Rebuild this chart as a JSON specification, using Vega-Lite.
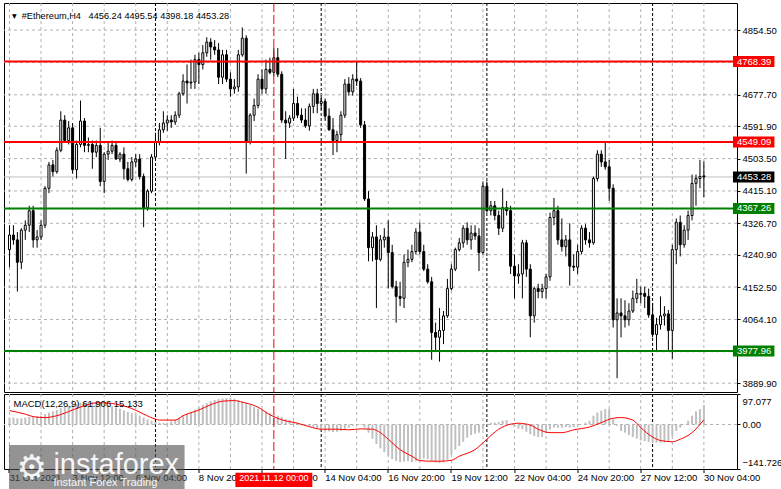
{
"$schema": "https://vega.github.io/schema/vega-lite/v6.json",
"background": "white",
"padding": {"left": 2, "top": 2, "right": 0, "bottom": 0},
"bounds": "flush",
"spacing": 2,
"config": {
  "font": "Liberation Sans",
  "view": {"stroke": "black", "strokeWidth": 1},
  "axis": {"labelFontSize": 9.5, "labelColor": "black", "labelFont": "Liberation Sans", "tickColor": "black", "domain": false, "grid": false, "labelOverlap": false, "labelFlush": false}
},
"datasets": {
  "candles": [
{"t":"2021-10-31T20:00Z","o":4254.8,"h":4321.3,"l":4206.9,"c":4294.7,"m":22},
{"t":"2021-11-01T00:00Z","o":4294.7,"h":4321.3,"l":4268.1,"c":4281.4,"m":22},
{"t":"2021-11-01T04:00Z","o":4281.4,"h":4302.7,"l":4140.3,"c":4220.2,"m":20},
{"t":"2021-11-01T08:00Z","o":4220.2,"h":4313.3,"l":4201.5,"c":4308.0,"m":20},
{"t":"2021-11-01T12:00Z","o":4308.0,"h":4334.6,"l":4281.4,"c":4321.3,"m":22},
{"t":"2021-11-01T16:00Z","o":4321.3,"h":4374.5,"l":4302.7,"c":4361.2,"m":24},
{"t":"2021-11-01T20:00Z","o":4361.2,"h":4374.5,"l":4260.1,"c":4281.4,"m":25},
{"t":"2021-11-02T00:00Z","o":4281.4,"h":4308.0,"l":4260.1,"c":4289.4,"m":26},
{"t":"2021-11-02T04:00Z","o":4289.4,"h":4334.6,"l":4281.4,"c":4321.3,"m":28},
{"t":"2021-11-02T08:00Z","o":4321.3,"h":4427.8,"l":4313.3,"c":4422.4,"m":33},
{"t":"2021-11-02T12:00Z","o":4422.4,"h":4494.3,"l":4409.1,"c":4486.3,"m":38},
{"t":"2021-11-02T16:00Z","o":4486.3,"h":4499.6,"l":4454.4,"c":4467.7,"m":42},
{"t":"2021-11-02T20:00Z","o":4467.7,"h":4534.2,"l":4462.4,"c":4526.2,"m":46},
{"t":"2021-11-03T00:00Z","o":4526.2,"h":4632.7,"l":4520.9,"c":4608.7,"m":52},
{"t":"2021-11-03T04:00Z","o":4608.7,"h":4622.0,"l":4547.5,"c":4552.8,"m":56},
{"t":"2021-11-03T08:00Z","o":4552.8,"h":4606.1,"l":4542.2,"c":4587.4,"m":60},
{"t":"2021-11-03T12:00Z","o":4587.4,"h":4600.7,"l":4462.4,"c":4473.0,"m":62},
{"t":"2021-11-03T16:00Z","o":4473.0,"h":4552.8,"l":4449.1,"c":4542.2,"m":66},
{"t":"2021-11-03T20:00Z","o":4542.2,"h":4662.0,"l":4534.2,"c":4606.1,"m":70},
{"t":"2021-11-04T00:00Z","o":4606.1,"h":4614.1,"l":4520.9,"c":4539.5,"m":71},
{"t":"2021-11-04T04:00Z","o":4539.5,"h":4560.8,"l":4520.9,"c":4542.2,"m":72},
{"t":"2021-11-04T08:00Z","o":4542.2,"h":4552.8,"l":4475.7,"c":4520.9,"m":72},
{"t":"2021-11-04T12:00Z","o":4520.9,"h":4552.8,"l":4507.6,"c":4539.5,"m":71},
{"t":"2021-11-04T16:00Z","o":4539.5,"h":4587.4,"l":4427.8,"c":4441.1,"m":69},
{"t":"2021-11-04T20:00Z","o":4441.1,"h":4520.9,"l":4409.1,"c":4515.6,"m":66},
{"t":"2021-11-05T00:00Z","o":4515.6,"h":4547.5,"l":4499.6,"c":4523.6,"m":62},
{"t":"2021-11-05T04:00Z","o":4523.6,"h":4552.8,"l":4515.6,"c":4539.5,"m":58},
{"t":"2021-11-05T08:00Z","o":4539.5,"h":4547.5,"l":4499.6,"c":4502.3,"m":54},
{"t":"2021-11-05T12:00Z","o":4502.3,"h":4520.9,"l":4494.3,"c":4515.6,"m":50},
{"t":"2021-11-05T16:00Z","o":4515.6,"h":4534.2,"l":4446.4,"c":4475.7,"m":45},
{"t":"2021-11-05T20:00Z","o":4475.7,"h":4494.3,"l":4441.1,"c":4446.4,"m":40},
{"t":"2021-11-06T00:00Z","o":4446.4,"h":4507.6,"l":4441.1,"c":4494.3,"m":36},
{"t":"2021-11-06T04:00Z","o":4494.3,"h":4515.6,"l":4481.0,"c":4502.3,"m":32},
{"t":"2021-11-06T08:00Z","o":4502.3,"h":4515.6,"l":4446.4,"c":4454.4,"m":28},
{"t":"2021-11-06T12:00Z","o":4454.4,"h":4462.4,"l":4316.0,"c":4369.2,"m":22},
{"t":"2021-11-06T16:00Z","o":4369.2,"h":4419.8,"l":4361.2,"c":4414.5,"m":16},
{"t":"2021-11-06T20:00Z","o":4414.5,"h":4515.6,"l":4409.1,"c":4507.6,"m":12},
{"t":"2021-11-07T00:00Z","o":4507.6,"h":4574.1,"l":4502.3,"c":4547.5,"m":8},
{"t":"2021-11-07T04:00Z","o":4547.5,"h":4600.7,"l":4539.5,"c":4582.1,"m":6},
{"t":"2021-11-07T08:00Z","o":4582.1,"h":4632.7,"l":4574.1,"c":4600.7,"m":5},
{"t":"2021-11-07T12:00Z","o":4600.7,"h":4622.0,"l":4579.5,"c":4608.7,"m":6},
{"t":"2021-11-07T16:00Z","o":4608.7,"h":4622.0,"l":4587.4,"c":4603.4,"m":10},
{"t":"2021-11-07T20:00Z","o":4603.4,"h":4632.7,"l":4595.4,"c":4622.0,"m":15},
{"t":"2021-11-08T00:00Z","o":4622.0,"h":4685.9,"l":4614.1,"c":4680.6,"m":22},
{"t":"2021-11-08T04:00Z","o":4680.6,"h":4733.8,"l":4675.3,"c":4715.2,"m":28},
{"t":"2021-11-08T08:00Z","o":4715.2,"h":4760.4,"l":4654.0,"c":4709.9,"m":34},
{"t":"2021-11-08T12:00Z","o":4709.9,"h":4773.7,"l":4693.9,"c":4712.5,"m":40},
{"t":"2021-11-08T16:00Z","o":4712.5,"h":4787.0,"l":4693.9,"c":4773.7,"m":47},
{"t":"2021-11-08T20:00Z","o":4773.7,"h":4792.4,"l":4707.2,"c":4760.4,"m":54},
{"t":"2021-11-09T00:00Z","o":4760.4,"h":4813.6,"l":4747.1,"c":4792.4,"m":62},
{"t":"2021-11-09T04:00Z","o":4792.4,"h":4834.9,"l":4781.7,"c":4821.6,"m":68},
{"t":"2021-11-09T08:00Z","o":4821.6,"h":4832.3,"l":4773.7,"c":4808.3,"m":74},
{"t":"2021-11-09T12:00Z","o":4808.3,"h":4827.0,"l":4787.0,"c":4800.3,"m":78},
{"t":"2021-11-09T16:00Z","o":4800.3,"h":4819.0,"l":4707.2,"c":4725.8,"m":81},
{"t":"2021-11-09T20:00Z","o":4725.8,"h":4800.3,"l":4707.2,"c":4787.0,"m":83},
{"t":"2021-11-10T00:00Z","o":4787.0,"h":4800.3,"l":4712.5,"c":4720.5,"m":84},
{"t":"2021-11-10T04:00Z","o":4720.5,"h":4739.1,"l":4672.6,"c":4693.9,"m":84},
{"t":"2021-11-10T08:00Z","o":4693.9,"h":4720.5,"l":4680.6,"c":4699.2,"m":82},
{"t":"2021-11-10T12:00Z","o":4699.2,"h":4800.3,"l":4685.9,"c":4787.0,"m":78},
{"t":"2021-11-10T16:00Z","o":4787.0,"h":4861.6,"l":4781.7,"c":4832.3,"m":74},
{"t":"2021-11-10T20:00Z","o":4832.3,"h":4840.3,"l":4462.4,"c":4547.5,"m":68},
{"t":"2021-11-11T00:00Z","o":4547.5,"h":4627.4,"l":4542.2,"c":4622.0,"m":62},
{"t":"2021-11-11T04:00Z","o":4622.0,"h":4667.3,"l":4606.1,"c":4648.6,"m":56},
{"t":"2021-11-11T08:00Z","o":4648.6,"h":4733.8,"l":4640.7,"c":4720.5,"m":51},
{"t":"2021-11-11T12:00Z","o":4720.5,"h":4747.1,"l":4680.6,"c":4693.9,"m":46},
{"t":"2021-11-11T16:00Z","o":4693.9,"h":4773.7,"l":4680.6,"c":4747.1,"m":42},
{"t":"2021-11-11T20:00Z","o":4747.1,"h":4779.1,"l":4733.8,"c":4739.1,"m":36},
{"t":"2021-11-12T00:00Z","o":4739.1,"h":4805.7,"l":4728.5,"c":4779.1,"m":32},
{"t":"2021-11-12T04:00Z","o":4779.1,"h":4805.7,"l":4725.8,"c":4733.8,"m":28},
{"t":"2021-11-12T08:00Z","o":4733.8,"h":4741.8,"l":4600.7,"c":4608.7,"m":24},
{"t":"2021-11-12T12:00Z","o":4608.7,"h":4632.7,"l":4502.3,"c":4600.7,"m":18},
{"t":"2021-11-12T16:00Z","o":4600.7,"h":4622.0,"l":4587.4,"c":4614.1,"m":14},
{"t":"2021-11-12T20:00Z","o":4614.1,"h":4693.9,"l":4606.1,"c":4654.0,"m":10},
{"t":"2021-11-13T00:00Z","o":4654.0,"h":4672.6,"l":4614.1,"c":4622.0,"m":6},
{"t":"2021-11-13T04:00Z","o":4622.0,"h":4640.7,"l":4600.7,"c":4608.7,"m":2},
{"t":"2021-11-13T08:00Z","o":4608.7,"h":4640.7,"l":4587.4,"c":4592.8,"m":-2},
{"t":"2021-11-13T12:00Z","o":4592.8,"h":4654.0,"l":4579.5,"c":4646.0,"m":-5},
{"t":"2021-11-13T16:00Z","o":4646.0,"h":4693.9,"l":4627.4,"c":4680.6,"m":-8},
{"t":"2021-11-13T20:00Z","o":4680.6,"h":4693.9,"l":4627.4,"c":4654.0,"m":-12},
{"t":"2021-11-14T00:00Z","o":4654.0,"h":4675.3,"l":4638.0,"c":4659.3,"m":-16},
{"t":"2021-11-14T04:00Z","o":4659.3,"h":4667.3,"l":4606.1,"c":4619.4,"m":-20},
{"t":"2021-11-14T08:00Z","o":4619.4,"h":4640.7,"l":4579.5,"c":4582.1,"m":-22},
{"t":"2021-11-14T12:00Z","o":4582.1,"h":4614.1,"l":4512.9,"c":4552.8,"m":-24},
{"t":"2021-11-14T16:00Z","o":4552.8,"h":4579.5,"l":4520.9,"c":4568.8,"m":-23},
{"t":"2021-11-14T20:00Z","o":4568.8,"h":4632.7,"l":4547.5,"c":4622.0,"m":-20},
{"t":"2021-11-15T00:00Z","o":4622.0,"h":4720.5,"l":4614.1,"c":4707.2,"m":-16},
{"t":"2021-11-15T04:00Z","o":4707.2,"h":4725.8,"l":4675.3,"c":4685.9,"m":-10},
{"t":"2021-11-15T08:00Z","o":4685.9,"h":4733.8,"l":4675.3,"c":4720.5,"m":-5},
{"t":"2021-11-15T12:00Z","o":4720.5,"h":4768.4,"l":4701.9,"c":4715.2,"m":0},
{"t":"2021-11-15T16:00Z","o":4715.2,"h":4723.2,"l":4587.4,"c":4595.4,"m":2},
{"t":"2021-11-15T20:00Z","o":4595.4,"h":4606.1,"l":4387.8,"c":4393.2,"m":-10},
{"t":"2021-11-16T00:00Z","o":4393.2,"h":4414.5,"l":4222.8,"c":4260.1,"m":-26},
{"t":"2021-11-16T04:00Z","o":4260.1,"h":4302.7,"l":4222.8,"c":4289.4,"m":-45},
{"t":"2021-11-16T08:00Z","o":4289.4,"h":4321.3,"l":4095.1,"c":4228.1,"m":-62},
{"t":"2021-11-16T12:00Z","o":4228.1,"h":4294.7,"l":4222.8,"c":4281.4,"m":-76},
{"t":"2021-11-16T16:00Z","o":4281.4,"h":4313.3,"l":4260.1,"c":4289.4,"m":-88},
{"t":"2021-11-16T20:00Z","o":4289.4,"h":4334.6,"l":4148.3,"c":4246.8,"m":-100},
{"t":"2021-11-17T00:00Z","o":4246.8,"h":4268.1,"l":4148.3,"c":4153.6,"m":-110},
{"t":"2021-11-17T04:00Z","o":4153.6,"h":4169.6,"l":4055.2,"c":4127.0,"m":-116},
{"t":"2021-11-17T08:00Z","o":4127.0,"h":4167.0,"l":4100.4,"c":4121.7,"m":-120},
{"t":"2021-11-17T12:00Z","o":4121.7,"h":4241.5,"l":4095.1,"c":4220.2,"m":-118},
{"t":"2021-11-17T16:00Z","o":4220.2,"h":4254.8,"l":4206.9,"c":4228.1,"m":-117},
{"t":"2021-11-17T20:00Z","o":4228.1,"h":4268.1,"l":4220.2,"c":4249.5,"m":-120},
{"t":"2021-11-18T00:00Z","o":4249.5,"h":4313.3,"l":4241.5,"c":4302.7,"m":-117},
{"t":"2021-11-18T04:00Z","o":4302.7,"h":4329.3,"l":4241.5,"c":4249.5,"m":-112},
{"t":"2021-11-18T08:00Z","o":4249.5,"h":4268.1,"l":4196.2,"c":4201.5,"m":-108},
{"t":"2021-11-18T12:00Z","o":4201.5,"h":4214.9,"l":4161.6,"c":4167.0,"m":-110},
{"t":"2021-11-18T16:00Z","o":4167.0,"h":4180.3,"l":3954.0,"c":4028.6,"m":-117},
{"t":"2021-11-18T20:00Z","o":4028.6,"h":4055.2,"l":3975.3,"c":4015.3,"m":-121},
{"t":"2021-11-19T00:00Z","o":4015.3,"h":4095.1,"l":3948.7,"c":4033.9,"m":-123},
{"t":"2021-11-19T04:00Z","o":4033.9,"h":4087.1,"l":3996.6,"c":4073.8,"m":-121},
{"t":"2021-11-19T08:00Z","o":4073.8,"h":4174.9,"l":4068.5,"c":4148.3,"m":-112},
{"t":"2021-11-19T12:00Z","o":4148.3,"h":4214.9,"l":4143.0,"c":4201.5,"m":-96},
{"t":"2021-11-19T16:00Z","o":4201.5,"h":4260.1,"l":4196.2,"c":4254.8,"m":-80},
{"t":"2021-11-19T20:00Z","o":4254.8,"h":4286.7,"l":4249.5,"c":4273.4,"m":-69},
{"t":"2021-11-20T00:00Z","o":4273.4,"h":4321.3,"l":4260.1,"c":4313.3,"m":-55},
{"t":"2021-11-20T04:00Z","o":4313.3,"h":4329.3,"l":4268.1,"c":4281.4,"m":-42},
{"t":"2021-11-20T08:00Z","o":4281.4,"h":4321.3,"l":4254.8,"c":4300.0,"m":-34},
{"t":"2021-11-20T12:00Z","o":4300.0,"h":4321.3,"l":4281.4,"c":4292.0,"m":-29},
{"t":"2021-11-20T16:00Z","o":4292.0,"h":4313.3,"l":4196.2,"c":4246.8,"m":-26},
{"t":"2021-11-20T20:00Z","o":4246.8,"h":4441.1,"l":4241.5,"c":4427.8,"m":-15},
{"t":"2021-11-21T00:00Z","o":4427.8,"h":4441.1,"l":4355.9,"c":4361.2,"m":-2},
{"t":"2021-11-21T04:00Z","o":4361.2,"h":4387.8,"l":4347.9,"c":4374.5,"m":5},
{"t":"2021-11-21T08:00Z","o":4374.5,"h":4387.8,"l":4334.6,"c":4347.9,"m":6},
{"t":"2021-11-21T12:00Z","o":4347.9,"h":4361.2,"l":4294.7,"c":4313.3,"m":8},
{"t":"2021-11-21T16:00Z","o":4313.3,"h":4422.4,"l":4302.7,"c":4369.2,"m":12},
{"t":"2021-11-21T20:00Z","o":4369.2,"h":4387.8,"l":4347.9,"c":4361.2,"m":14},
{"t":"2021-11-22T00:00Z","o":4361.2,"h":4374.5,"l":4188.2,"c":4209.5,"m":2},
{"t":"2021-11-22T04:00Z","o":4209.5,"h":4241.5,"l":4121.7,"c":4182.9,"m":-8},
{"t":"2021-11-22T08:00Z","o":4182.9,"h":4214.9,"l":4161.6,"c":4188.2,"m":-13},
{"t":"2021-11-22T12:00Z","o":4188.2,"h":4281.4,"l":4121.7,"c":4273.4,"m":-15},
{"t":"2021-11-22T16:00Z","o":4273.4,"h":4281.4,"l":4180.3,"c":4201.5,"m":-23},
{"t":"2021-11-22T20:00Z","o":4201.5,"h":4214.9,"l":4015.3,"c":4073.8,"m":-31},
{"t":"2021-11-23T00:00Z","o":4073.8,"h":4153.6,"l":4055.2,"c":4148.3,"m":-37},
{"t":"2021-11-23T04:00Z","o":4148.3,"h":4161.6,"l":4121.7,"c":4140.3,"m":-40},
{"t":"2021-11-23T08:00Z","o":4140.3,"h":4161.6,"l":4121.7,"c":4148.3,"m":-40},
{"t":"2021-11-23T12:00Z","o":4148.3,"h":4188.2,"l":4121.7,"c":4180.3,"m":-28},
{"t":"2021-11-23T16:00Z","o":4180.3,"h":4355.9,"l":4169.6,"c":4342.6,"m":-16},
{"t":"2021-11-23T20:00Z","o":4342.6,"h":4395.8,"l":4321.3,"c":4361.2,"m":-10},
{"t":"2021-11-24T00:00Z","o":4361.2,"h":4374.5,"l":4268.1,"c":4281.4,"m":-10},
{"t":"2021-11-24T04:00Z","o":4281.4,"h":4339.9,"l":4249.5,"c":4262.8,"m":-10},
{"t":"2021-11-24T08:00Z","o":4262.8,"h":4294.7,"l":4236.1,"c":4281.4,"m":-8},
{"t":"2021-11-24T12:00Z","o":4281.4,"h":4326.6,"l":4156.3,"c":4209.5,"m":-10},
{"t":"2021-11-24T16:00Z","o":4209.5,"h":4241.5,"l":4196.2,"c":4206.9,"m":-8},
{"t":"2021-11-24T20:00Z","o":4206.9,"h":4268.1,"l":4188.2,"c":4249.5,"m":-4},
{"t":"2021-11-25T00:00Z","o":4249.5,"h":4321.3,"l":4241.5,"c":4313.3,"m":1},
{"t":"2021-11-25T04:00Z","o":4313.3,"h":4324.0,"l":4268.1,"c":4281.4,"m":6},
{"t":"2021-11-25T08:00Z","o":4281.4,"h":4302.7,"l":4260.1,"c":4273.4,"m":12},
{"t":"2021-11-25T12:00Z","o":4273.4,"h":4454.4,"l":4268.1,"c":4449.1,"m":28},
{"t":"2021-11-25T16:00Z","o":4449.1,"h":4526.2,"l":4441.1,"c":4515.6,"m":38},
{"t":"2021-11-25T20:00Z","o":4515.6,"h":4526.2,"l":4481.0,"c":4494.3,"m":44},
{"t":"2021-11-26T00:00Z","o":4494.3,"h":4547.5,"l":4473.0,"c":4481.0,"m":49},
{"t":"2021-11-26T04:00Z","o":4481.0,"h":4499.6,"l":4387.8,"c":4422.4,"m":49},
{"t":"2021-11-26T08:00Z","o":4422.4,"h":4433.1,"l":4041.9,"c":4063.2,"m":17},
{"t":"2021-11-26T12:00Z","o":4063.2,"h":4121.7,"l":3903.5,"c":4081.8,"m":-4},
{"t":"2021-11-26T16:00Z","o":4081.8,"h":4121.7,"l":4015.3,"c":4073.8,"m":-21},
{"t":"2021-11-26T20:00Z","o":4073.8,"h":4116.4,"l":4041.9,"c":4063.2,"m":-26},
{"t":"2021-11-27T00:00Z","o":4063.2,"h":4108.4,"l":4047.2,"c":4087.1,"m":-34},
{"t":"2021-11-27T04:00Z","o":4087.1,"h":4143.0,"l":4081.8,"c":4121.7,"m":-40},
{"t":"2021-11-27T08:00Z","o":4121.7,"h":4174.9,"l":4108.4,"c":4135.0,"m":-45},
{"t":"2021-11-27T12:00Z","o":4132.4,"h":4153.6,"l":4108.4,"c":4135.0,"m":-51},
{"t":"2021-11-27T16:00Z","o":4135.0,"h":4153.6,"l":4095.1,"c":4127.0,"m":-53},
{"t":"2021-11-27T20:00Z","o":4127.0,"h":4148.3,"l":4068.5,"c":4076.5,"m":-56},
{"t":"2021-11-28T00:00Z","o":4076.5,"h":4108.4,"l":4015.3,"c":4023.2,"m":-58},
{"t":"2021-11-28T04:00Z","o":4023.2,"h":4068.5,"l":3975.3,"c":4049.9,"m":-58},
{"t":"2021-11-28T08:00Z","o":4049.9,"h":4127.0,"l":4036.6,"c":4073.8,"m":-58},
{"t":"2021-11-28T12:00Z","o":4073.8,"h":4100.4,"l":4047.2,"c":4079.1,"m":-57},
{"t":"2021-11-28T16:00Z","o":4079.1,"h":4089.8,"l":3980.7,"c":4033.9,"m":-53},
{"t":"2021-11-28T20:00Z","o":4033.9,"h":4268.1,"l":3956.7,"c":4254.8,"m":-37},
{"t":"2021-11-29T00:00Z","o":4254.8,"h":4339.9,"l":4214.9,"c":4329.3,"m":-21},
{"t":"2021-11-29T04:00Z","o":4329.3,"h":4347.9,"l":4236.1,"c":4268.1,"m":-10},
{"t":"2021-11-29T08:00Z","o":4268.1,"h":4321.3,"l":4260.1,"c":4308.0,"m":1},
{"t":"2021-11-29T12:00Z","o":4308.0,"h":4361.2,"l":4281.4,"c":4347.9,"m":12},
{"t":"2021-11-29T16:00Z","o":4347.9,"h":4459.7,"l":4334.6,"c":4435.7,"m":28},
{"t":"2021-11-29T20:00Z","o":4435.7,"h":4459.7,"l":4374.5,"c":4449.1,"m":42},
{"t":"2021-11-30T00:00Z","o":4449.1,"h":4499.6,"l":4422.4,"c":4454.4,"m":49},
{"t":"2021-11-30T04:00Z","o":4456.24,"h":4495.54,"l":4398.18,"c":4453.28,"m":61.906}
  ],
  "signal": [
{"t":"2021-10-31T20:00Z","s":44},{"t":"2021-11-01T12:00Z","s":33},{"t":"2021-11-01T20:00Z","s":25},
{"t":"2021-11-02T08:00Z","s":22},{"t":"2021-11-02T20:00Z","s":28},{"t":"2021-11-03T12:00Z","s":46},
{"t":"2021-11-04T00:00Z","s":60},{"t":"2021-11-04T12:00Z","s":69},{"t":"2021-11-04T20:00Z","s":69},
{"t":"2021-11-05T12:00Z","s":62},{"t":"2021-11-06T00:00Z","s":51},{"t":"2021-11-06T12:00Z","s":33},
{"t":"2021-11-07T00:00Z","s":17},{"t":"2021-11-07T04:00Z","s":14},{"t":"2021-11-07T20:00Z","s":14},
{"t":"2021-11-08T04:00Z","s":28},{"t":"2021-11-08T20:00Z","s":46},{"t":"2021-11-09T08:00Z","s":63},
{"t":"2021-11-09T20:00Z","s":74},{"t":"2021-11-10T08:00Z","s":76},{"t":"2021-11-10T16:00Z","s":71},
{"t":"2021-11-11T08:00Z","s":55},{"t":"2021-11-11T20:00Z","s":31},{"t":"2021-11-12T08:00Z","s":15},
{"t":"2021-11-13T00:00Z","s":4},{"t":"2021-11-13T12:00Z","s":-7},{"t":"2021-11-14T00:00Z","s":-15},
{"t":"2021-11-14T16:00Z","s":-15},{"t":"2021-11-15T04:00Z","s":-17},{"t":"2021-11-15T16:00Z","s":-14},
{"t":"2021-11-16T04:00Z","s":-15},{"t":"2021-11-16T12:00Z","s":-26},{"t":"2021-11-16T20:00Z","s":-47},
{"t":"2021-11-17T08:00Z","s":-80},{"t":"2021-11-17T20:00Z","s":-101},{"t":"2021-11-18T04:00Z","s":-115},
{"t":"2021-11-18T16:00Z","s":-117},{"t":"2021-11-19T00:00Z","s":-117},{"t":"2021-11-19T12:00Z","s":-114},
{"t":"2021-11-19T20:00Z","s":-101},{"t":"2021-11-20T12:00Z","s":-80},{"t":"2021-11-21T00:00Z","s":-47},
{"t":"2021-11-21T12:00Z","s":-15},{"t":"2021-11-22T00:00Z","s":1},{"t":"2021-11-22T08:00Z","s":4},
{"t":"2021-11-22T20:00Z","s":-2},{"t":"2021-11-23T04:00Z","s":-15},{"t":"2021-11-23T16:00Z","s":-26},
{"t":"2021-11-24T04:00Z","s":-26},{"t":"2021-11-24T16:00Z","s":-17},{"t":"2021-11-25T08:00Z","s":-8},
{"t":"2021-11-25T20:00Z","s":6},{"t":"2021-11-26T08:00Z","s":20},{"t":"2021-11-26T16:00Z","s":22},
{"t":"2021-11-27T04:00Z","s":14},{"t":"2021-11-27T12:00Z","s":-10},{"t":"2021-11-28T00:00Z","s":-40},
{"t":"2021-11-28T08:00Z","s":-51},{"t":"2021-11-28T20:00Z","s":-55},{"t":"2021-11-29T04:00Z","s":-47},
{"t":"2021-11-29T16:00Z","s":-26},{"t":"2021-11-30T04:00Z","s":15.133}
  ],
  "vlines": [
{"t":"2021-10-31T20:00Z","k":"grid"},{"t":"2021-11-02T04:00Z","k":"grid"},{"t":"2021-11-03T12:00Z","k":"grid"},{"t":"2021-11-04T20:00Z","k":"grid"},
{"t":"2021-11-06T04:00Z","k":"grid"},{"t":"2021-11-07T12:00Z","k":"grid"},{"t":"2021-11-08T20:00Z","k":"grid"},{"t":"2021-11-10T04:00Z","k":"grid"},
{"t":"2021-11-11T12:00Z","k":"grid"},{"t":"2021-11-12T20:00Z","k":"grid"},{"t":"2021-11-14T04:00Z","k":"grid"},{"t":"2021-11-15T12:00Z","k":"grid"},
{"t":"2021-11-16T20:00Z","k":"grid"},{"t":"2021-11-18T04:00Z","k":"grid"},{"t":"2021-11-19T12:00Z","k":"grid"},{"t":"2021-11-20T20:00Z","k":"grid"},
{"t":"2021-11-22T04:00Z","k":"grid"},{"t":"2021-11-23T12:00Z","k":"grid"},{"t":"2021-11-24T20:00Z","k":"grid"},{"t":"2021-11-26T04:00Z","k":"grid"},
{"t":"2021-11-27T12:00Z","k":"grid"},{"t":"2021-11-28T20:00Z","k":"grid"},{"t":"2021-11-30T04:00Z","k":"grid"},
{"t":"2021-11-07T00:00Z","k":"sep"},{"t":"2021-11-14T00:00Z","k":"sep"},{"t":"2021-11-21T00:00Z","k":"sep"},{"t":"2021-11-28T00:00Z","k":"sep"}
  ],
  "ygrid": [{"p":4854.5},{"p":4766.1},{"p":4677.7},{"p":4591.9},{"p":4503.5},{"p":4415.1},{"p":4326.7},{"p":4240.9},{"p":4152.5},{"p":4064.1},{"p":3976.0},{"p":3889.9}],
  "mgrid": [{"v":0}],
  "levels": [{"v":4768.39,"k":"r"},{"v":4549.09,"k":"r"},{"v":4453.28,"k":"b"},{"v":4367.26,"k":"g"},{"v":3977.96,"k":"g"}],
  "cross": [{"t":"2021-11-12T00:00Z","label":"2021.11.12 00:00"}],
  "header": [{"main":"▾\u00a0\u00a0#Ethereum,H4\u00a0\u00a0\u00a04456.24 4495.54 4398.18 4453.28","macd":"MACD(12,26,9) 61.906 15.133"}],
  "brand": [{"logo":"⚙","name":"instaforex","tag":"Instant Forex Trading"}]
},
"vconcat": [
{
  "width": 733,
  "height": 389,
  "layer": [
    {
      "data": {"name": "candles"},
      "mark": {"type": "rule", "color": "black", "strokeWidth": 1, "opacity": 0},
      "encoding": {
        "x": {"field": "t", "type": "temporal", "scale": {"type": "utc", "domain": [1635708600000, 1638347400000]},
              "axis": {"title": null, "labels": false, "ticks": false, "domain": false, "grid": false}},
        "y": {"field": "l", "type": "quantitative", "scale": {"domain": [3879.5, 4914.8], "zero": false, "nice": false},
              "axis": {"title": null, "orient": "right", "tickCount": 100, "values": [4854.5, 4677.7, 4591.9, 4503.5, 4415.1, 4326.7, 4240.9, 4152.5, 4064.1, 3889.9], "format": ".2f", "tickSize": 3, "labelPadding": 2, "grid": false}},
        "y2": {"field": "h"}
      }
    },
    {
      "data": {"name": "vlines"},
      "mark": {"type": "rule", "strokeWidth": 1},
      "encoding": {
        "x": {"field": "t", "type": "temporal"},
        "stroke": {"field": "k", "type": "nominal", "scale": {"domain": ["grid", "sep"], "range": ["#b0b0b0", "#000000"]}, "legend": null},
        "strokeDash": {"field": "k", "type": "nominal", "scale": {"domain": ["grid", "sep"], "range": [[3, 3], [3, 2]]}, "legend": null}
      }
    },
    {
      "data": {"name": "ygrid"},
      "mark": {"type": "rule", "color": "#b0b0b0", "strokeDash": [3, 3], "strokeWidth": 1},
      "encoding": {"y": {"field": "p", "type": "quantitative"}}
    },
    {
      "data": {"name": "levels"},
      "transform": [{"filter": "datum.k == 'b'"}],
      "mark": {"type": "rule", "color": "#c0c0c0", "strokeWidth": 1},
      "encoding": {"y": {"field": "v", "type": "quantitative"}}
    },
    {
      "data": {"name": "candles"},
      "mark": {"type": "rule", "color": "black", "strokeWidth": 1},
      "encoding": {
        "x": {"field": "t", "type": "temporal"},
        "y": {"field": "l", "type": "quantitative"},
        "y2": {"field": "h"}
      }
    },
    {
      "data": {"name": "candles"},
      "mark": {"type": "bar", "width": 2, "stroke": "black", "strokeWidth": 1},
      "encoding": {
        "x": {"field": "t", "type": "temporal"},
        "y": {"field": "o", "type": "quantitative"},
        "y2": {"field": "c"},
        "fill": {"condition": {"test": "datum.c >= datum.o", "value": "white"}, "value": "black"}
      }
    },
    {
      "data": {"name": "levels"},
      "transform": [{"filter": "datum.k != 'b'"}],
      "mark": {"type": "rule", "strokeWidth": 2},
      "encoding": {
        "y": {"field": "v", "type": "quantitative"},
        "color": {"field": "k", "type": "nominal", "scale": {"domain": ["r", "g", "b"], "range": ["#ff0000", "#008000", "#000000"]}, "legend": null}
      }
    },
    {
      "data": {"name": "cross"},
      "mark": {"type": "rule", "color": "#ff0000", "strokeDash": [9, 3], "strokeWidth": 1},
      "encoding": {"x": {"field": "t", "type": "temporal"}}
    },
    {
      "data": {"name": "levels"},
      "mark": {"type": "bar", "height": 11, "clip": false},
      "encoding": {
        "x": {"datum": {"year": 2021, "month": 12, "date": 1, "hours": 9, "minutes": 30, "utc": true}, "type": "temporal"},
        "x2": {"datum": {"year": 2021, "month": 12, "date": 3, "hours": 3, "minutes": 30, "utc": true}},
        "y": {"field": "v", "type": "quantitative"},
        "color": {"field": "k", "type": "nominal", "legend": null}
      }
    },
    {
      "data": {"name": "levels"},
      "mark": {"type": "text", "align": "left", "baseline": "middle", "dx": 5, "fontSize": 9.5, "color": "white", "clip": false},
      "encoding": {
        "x": {"datum": {"year": 2021, "month": 12, "date": 1, "hours": 8, "minutes": 30, "utc": true}, "type": "temporal"},
        "y": {"field": "v", "type": "quantitative"},
        "text": {"field": "v", "type": "quantitative", "format": ".2f"}
      }
    },
    {
      "data": {"name": "header"},
      "mark": {"type": "text", "align": "left", "baseline": "alphabetic", "dx": 3, "fontSize": 9.2, "color": "black", "font": "Liberation Sans, DejaVu Sans"},
      "encoding": {
        "x": {"datum": {"year": 2021, "month": 10, "date": 31, "hours": 19, "minutes": 30, "utc": true}, "type": "temporal"},
        "y": {"datum": 4883.7},
        "text": {"field": "main"}
      }
    }
  ]
},
{
  "width": 733,
  "height": 75,
  "layer": [
    {
      "data": {"name": "candles"},
      "mark": {"type": "bar", "width": 2, "opacity": 0},
      "encoding": {
        "x": {"field": "t", "type": "temporal", "scale": {"type": "utc", "domain": [1635708600000, 1638347400000]},
              "axis": {"title": null, "grid": false, "translate": 0, "tickCount": 100, "tickSize": 4, "labelPadding": 0, "labelAlign": "left", "labelBaseline": "top", "labelFlush": false, "labelOverlap": false,
                       "values": [1635710400000,1635940800000,1636171200000,1636401600000,1636632000000,1636862400000,1637092800000,1637323200000,1637553600000,1637784000000,1638014400000,1638244800000],
                       "labelExpr": "time(datum.value) == 1635710400000 ? '31 Oct 2021' : utcFormat(datum.value, '%-d %b %H:%M')"}},
        "y": {"field": "m", "type": "quantitative", "scale": {"domain": [-141.726, 97.077], "zero": false, "nice": false},
              "axis": {"title": null, "orient": "right", "tickCount": 100, "values": [97.077, 0, -141.726], "labelExpr": "abs(datum.value) < 0.001 ? '0.00' : format(datum.value, '.3f')", "labelFlush": false, "labelOverlap": false, "labelBaseline": "middle",
                       "labelOffset": {"condition": [{"test": "datum.value > 50", "value": 7}, {"test": "datum.value < -100", "value": -7}], "value": 0},
                       "tickSize": 3, "labelPadding": 2, "grid": false}},
        "y2": {"datum": 0}
      }
    },
    {
      "data": {"name": "vlines"},
      "mark": {"type": "rule", "strokeWidth": 1},
      "encoding": {
        "x": {"field": "t", "type": "temporal"},
        "stroke": {"field": "k", "type": "nominal", "scale": {"domain": ["grid", "sep"], "range": ["#b0b0b0", "#000000"]}, "legend": null},
        "strokeDash": {"field": "k", "type": "nominal", "scale": {"domain": ["grid", "sep"], "range": [[3, 3], [3, 2]]}, "legend": null}
      }
    },
    {
      "data": {"name": "mgrid"},
      "mark": {"type": "rule", "color": "#b0b0b0", "strokeDash": [3, 3], "strokeWidth": 1},
      "encoding": {"y": {"field": "v", "type": "quantitative"}}
    },
    {
      "data": {"name": "candles"},
      "mark": {"type": "bar", "width": 2, "color": "#c0c0c0"},
      "encoding": {
        "x": {"field": "t", "type": "temporal"},
        "y": {"field": "m", "type": "quantitative"},
        "y2": {"datum": 0}
      }
    },
    {
      "data": {"name": "signal"},
      "mark": {"type": "line", "color": "#ff0000", "strokeWidth": 1, "interpolate": "monotone"},
      "encoding": {
        "x": {"field": "t", "type": "temporal"},
        "y": {"field": "s", "type": "quantitative"}
      }
    },
    {
      "data": {"name": "cross"},
      "mark": {"type": "rule", "color": "#ff0000", "strokeDash": [9, 3], "strokeWidth": 1},
      "encoding": {"x": {"field": "t", "type": "temporal"}}
    },
    {
      "data": {"name": "header"},
      "mark": {"type": "text", "align": "left", "baseline": "alphabetic", "dx": 4.5, "fontSize": 9.5, "color": "black"},
      "encoding": {
        "x": {"datum": {"year": 2021, "month": 10, "date": 31, "hours": 19, "minutes": 30, "utc": true}, "type": "temporal"},
        "y": {"datum": 55.7},
        "text": {"field": "macd"}
      }
    },
    {
      "data": {"name": "cross"},
      "mark": {"type": "bar", "color": "#ff0000", "clip": false},
      "encoding": {
        "x": {"datum": {"year": 2021, "month": 11, "date": 10, "hours": 9, "utc": true}, "type": "temporal"},
        "x2": {"datum": {"year": 2021, "month": 11, "date": 13, "hours": 15, "utc": true}},
        "y": {"datum": -153.5},
        "y2": {"datum": -199}
      }
    },
    {
      "data": {"name": "cross"},
      "mark": {"type": "text", "color": "white", "fontSize": 9, "align": "center", "baseline": "middle", "clip": false},
      "encoding": {
        "x": {"field": "t", "type": "temporal"},
        "y": {"datum": -171},
        "text": {"field": "label"}
      }
    },
    {
      "data": {"name": "brand"},
      "mark": {"type": "bar", "color": "#505050", "opacity": 0.62, "clip": false},
      "encoding": {
        "x": {"datum": {"year": 2021, "month": 10, "date": 31, "hours": 19, "minutes": 30, "utc": true}, "type": "temporal"},
        "x2": {"datum": {"year": 2021, "month": 11, "date": 8, "hours": 5, "minutes": 30, "utc": true}},
        "y": {"datum": -65.3},
        "y2": {"datum": -208.6}
      }
    },
    {
      "data": {"name": "brand"},
      "mark": {"type": "text", "color": "white", "fontSize": 34, "align": "center", "baseline": "alphabetic", "opacity": 0.9, "font": "DejaVu Sans", "clip": false},
      "encoding": {
        "x": {"datum": {"year": 2021, "month": 11, "date": 1, "hours": 18, "minutes": 30, "utc": true}, "type": "temporal"},
        "y": {"datum": -173.6},
        "text": {"field": "logo"}
      }
    },
    {
      "data": {"name": "brand"},
      "mark": {"type": "text", "color": "white", "fontSize": 29, "align": "left", "baseline": "alphabetic", "opacity": 0.92, "clip": false},
      "encoding": {
        "x": {"datum": {"year": 2021, "month": 11, "date": 2, "hours": 16, "minutes": 30, "utc": true}, "type": "temporal"},
        "y": {"datum": -157.6},
        "text": {"field": "name"}
      }
    },
    {
      "data": {"name": "brand"},
      "mark": {"type": "text", "color": "white", "fontSize": 11, "align": "left", "baseline": "alphabetic", "opacity": 0.92, "clip": false},
      "encoding": {
        "x": {"datum": {"year": 2021, "month": 11, "date": 2, "hours": 16, "minutes": 30, "utc": true}, "type": "temporal"},
        "y": {"datum": -195.8},
        "text": {"field": "tag"}
      }
    }
  ]
}
]
}
